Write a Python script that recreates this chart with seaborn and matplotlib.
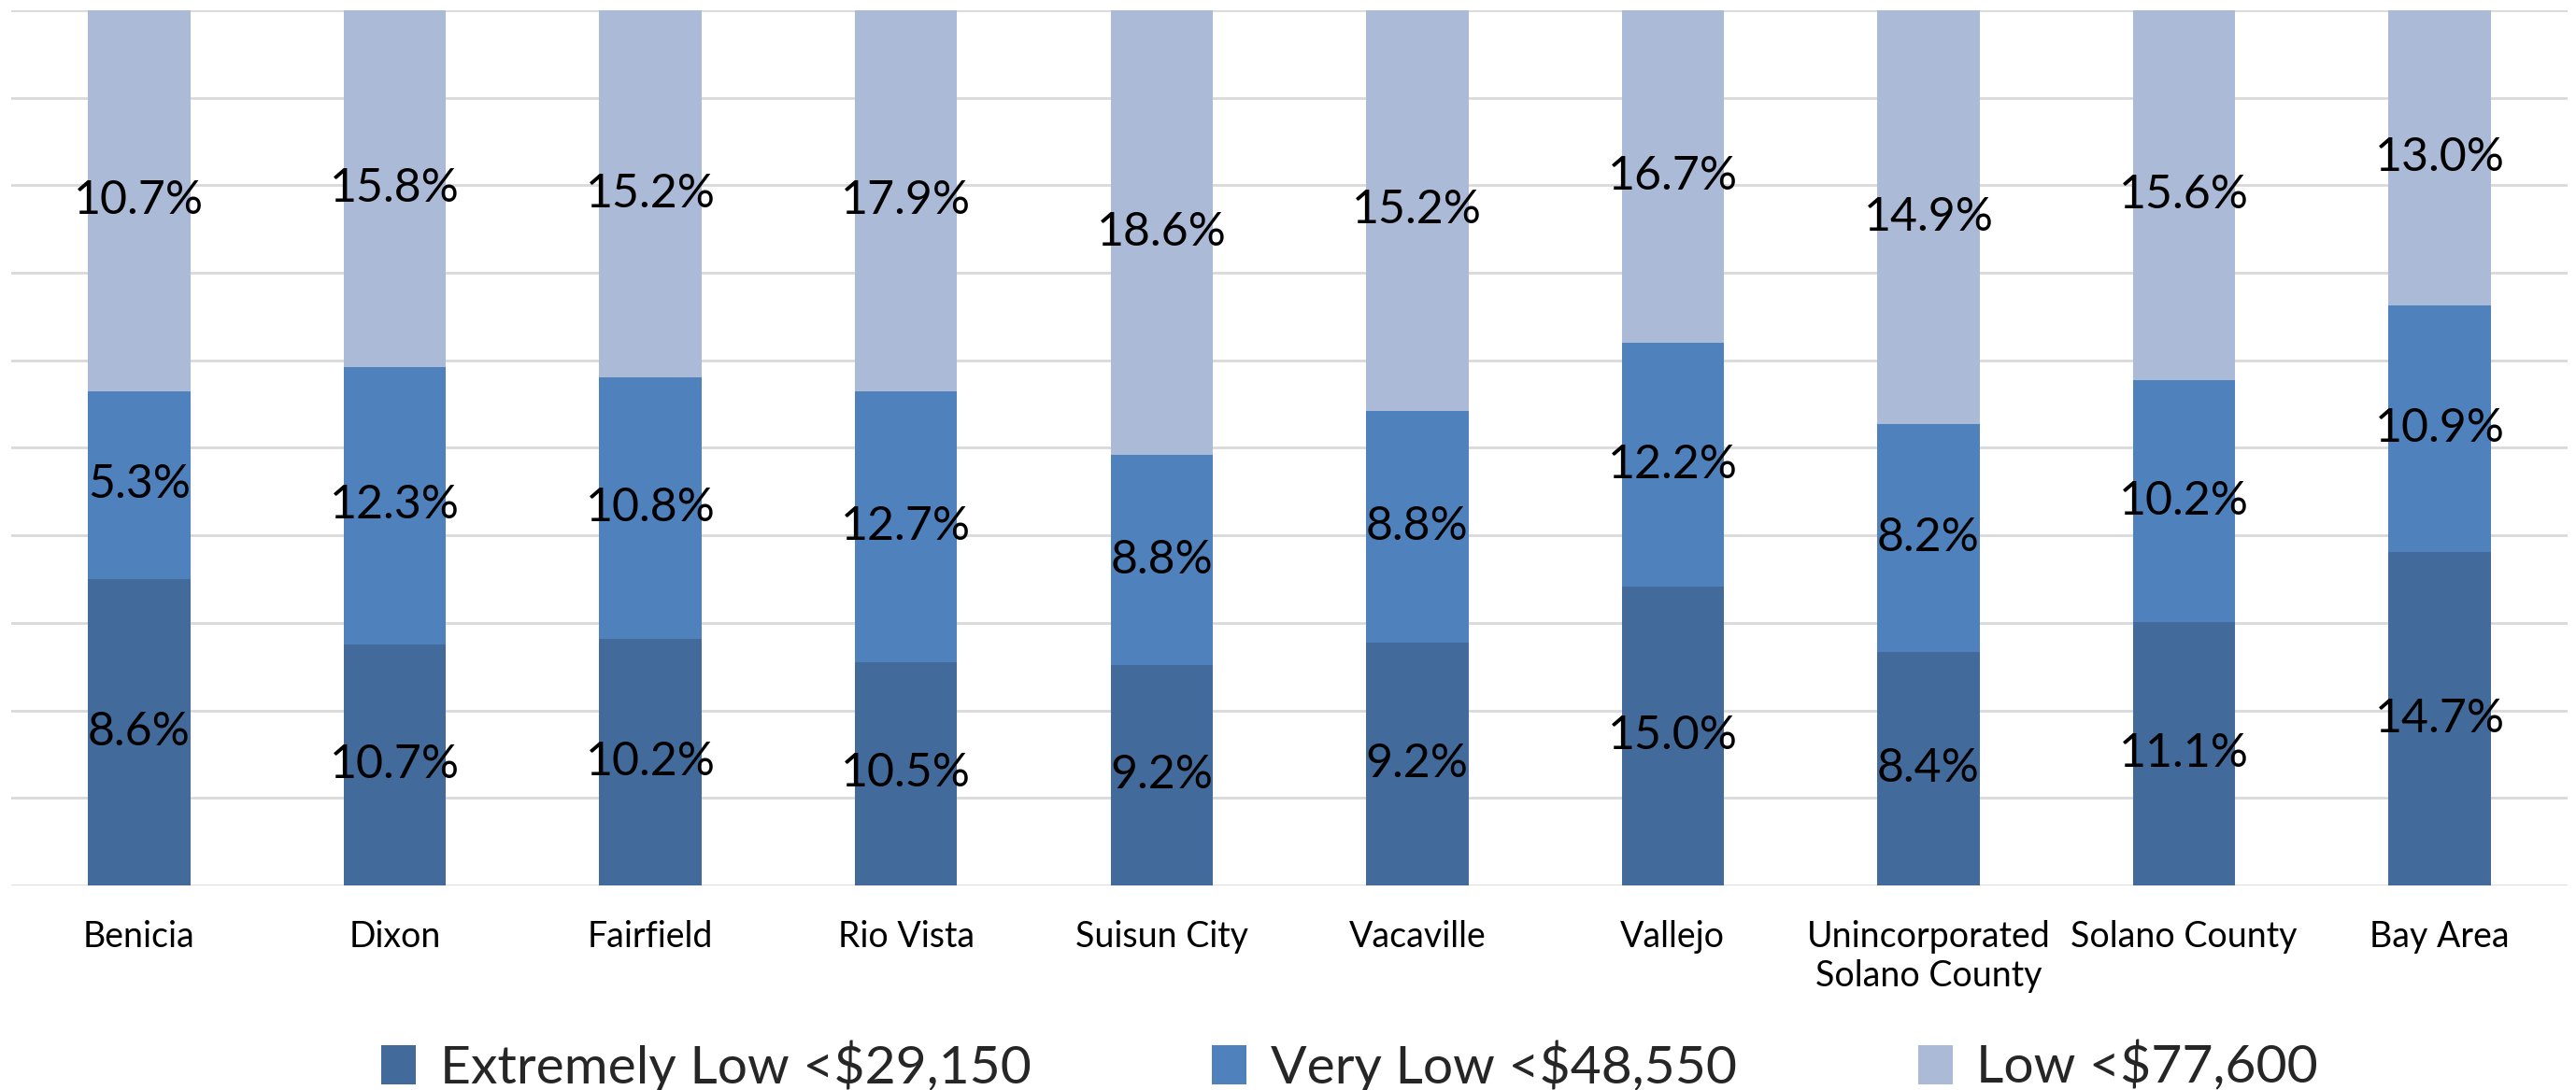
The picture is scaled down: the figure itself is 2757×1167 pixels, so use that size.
import matplotlib
matplotlib.use("Agg")
import matplotlib.pyplot as plt
from matplotlib.patches import Patch
import numpy as np
import pandas as pd
import seaborn as sns

# Income-band shares of households by jurisdiction
places = ["Benicia", "Dixon", "Fairfield", "Rio Vista", "Suisun City",
          "Vacaville", "Vallejo", "Unincorporated\nSolano County",
          "Solano County", "Bay Area"]
extremely_low = [8.6, 10.7, 10.2, 10.5, 9.2, 9.2, 15.0, 8.4, 11.1, 14.7]
very_low = [5.3, 12.3, 10.8, 12.7, 8.8, 8.8, 12.2, 8.2, 10.2, 10.9]
low = [10.7, 15.8, 15.2, 17.9, 18.6, 15.2, 16.7, 14.9, 15.6, 13.0]

series_names = ["Extremely Low <$29,150", "Very Low <$48,550", "Low <$77,600"]
colors = ["#426B9B", "#4F81BD", "#AABAD7"]

sns.set_theme(style="white")
plt.rcParams["font.family"] = ["Lato", "DejaVu Sans"]

df = pd.DataFrame({"place": places, "el": extremely_low,
                   "vl": very_low, "lo": low})
total = df["el"] + df["vl"] + df["lo"]
# cumulative shares for a 100% stacked layout
df["c1"] = df["el"] / total
df["c2"] = (df["el"] + df["vl"]) / total
df["c3"] = total / total

fig = plt.figure(figsize=(27.57, 11.67), dpi=100)
ax = fig.add_axes([0.0044, 0.1877, 0.9923, 0.8029])

for col, color in zip(["c3", "c2", "c1"], colors[::-1]):
    sns.barplot(data=df, x="place", y=col, color=color, width=0.4,
                saturation=1, ax=ax, zorder=3, edgecolor="none")

ax.set_ylim(0, 1)
ax.set_xlim(-0.5, len(places) - 0.5)
ax.set_yticks(np.arange(0, 1.01, 0.1))
ax.set_yticklabels([])
ax.tick_params(axis="y", length=0)
ax.tick_params(axis="x", length=0, labelsize=27, pad=27, colors="black")
ax.grid(axis="y", color="#D9D9D9", linewidth=2, zorder=0)
ax.grid(axis="x", visible=False)
ax.set_xlabel("")
ax.set_ylabel("")
for s in ax.spines.values():
    s.set_visible(False)

# segment value labels, centred in each segment
for i in range(len(df)):
    bottoms = [0, df["c1"][i], df["c2"][i]]
    tops = [df["c1"][i], df["c2"][i], 1.0]
    vals = [df["el"][i], df["vl"][i], df["lo"][i]]
    for b, t, v in zip(bottoms, tops, vals):
        ax.text(i, (b + t) / 2, f"{v:.1f}%", ha="center", va="center",
                fontsize=36, color="black", zorder=5)

handles = [Patch(facecolor=c, edgecolor="none") for c in colors]
fig.legend(handles, series_names, loc="center", bbox_to_anchor=(0.524, 0.022),
           ncol=3, frameon=False, fontsize=41, handlelength=0.65,
           handleheight=0.75, handletextpad=0.45, columnspacing=3.4)

fig.savefig("out.png", dpi=100, facecolor="white")
